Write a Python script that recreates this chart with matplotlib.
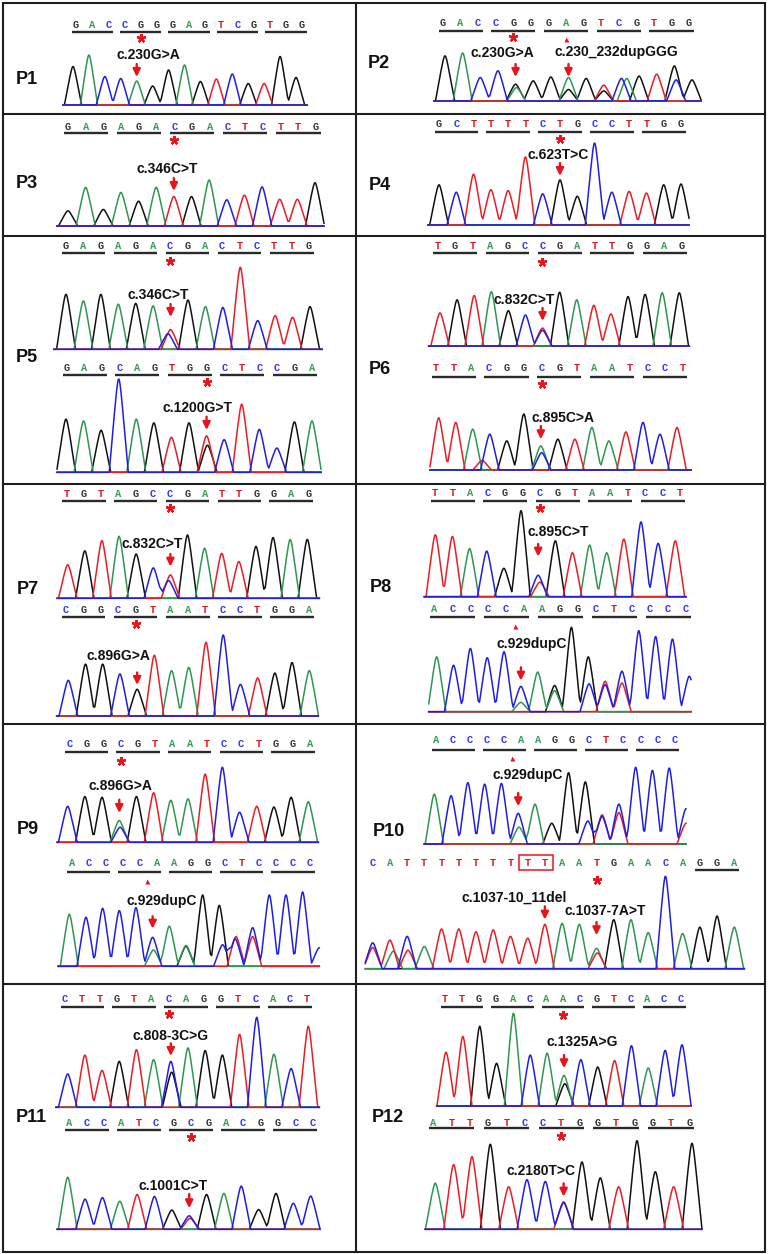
import matplotlib
matplotlib.use("Agg")
import matplotlib.pyplot as plt
from matplotlib.patches import Rectangle
import numpy as np

# ---------------- data ----------------
# sequences (letters printed above each trace)
seq_p1 = "GACCGGGAGTCGTGG"
seq_p2 = "GACCGGGAGTCGTGG"
seq_p3 = "GAGAGACGACTCTTG"
seq_p4 = "GCTTTTCTGCCTTGG"
seq_p5a = "GAGAGACGACTCTTG"
seq_p5b = "GAGCAGTGGCTCCGA"
seq_p6a = "TGTAGCCGATTGGAG"
seq_p6b = "TTACGGCGTAATCCT"
seq_p7a = "TGTAGCCGATTGGAG"
seq_p7b = "CGGCGTAATCCTGGA"
seq_p8a = "TTACGGCGTAATCCT"
seq_p8b = "ACCCCAAGGCTCCCC"
seq_p9a = "CGGCGTAATCCTGGA"
seq_p9b = "ACCCCAAGGCTCCCC"
seq_p10a = "ACCCCAAGGCTCCCC"
seq_p10b = "CATTTTTTTTTAATGAACAGGA"
seq_p11a = "CTTGTACAGGTCACT"
seq_p11b = "ACCATCGCGACGGCC"
seq_p12a = "TTGGACAACGTCACC"
seq_p12b = "ATTGTCCTGGTGGTG"

# primary peak bases (channel) and relative heights
peaks_p1 = "GACCAGGAGTCGTGG"
heights_p1 = [0.77, 1.0, 0.57, 0.53, 0.48, 0.38, 0.70, 0.80, 0.47, 0.52, 0.62, 0.43, 0.43, 0.97, 0.55]
extra_p1 = []
peaks_p2 = "GACCGGGAGTCGTGG"
heights_p2 = [0.94, 1.0, 0.49, 0.63, 0.35, 0.42, 0.50, 0.49, 0.47, 0.33, 0.47, 0.52, 0.56, 0.73, 0.44]
extra_p2 = [(4.05, "A", 0.28), (7.0, "G", 0.24), (9.0, "G", 0.21), (10.3, "A", 0.47), (13.1, "C", 0.44)]
peaks_p3 = "GAGAGATGACTCTTG"
heights_p3 = [0.33, 0.84, 0.36, 0.73, 0.54, 0.84, 0.64, 0.64, 1.0, 0.57, 0.67, 0.85, 0.58, 0.58, 0.94]
extra_p3 = []
peaks_p4 = "GCTTTTCGGCCTTGG"
heights_p4 = [0.49, 0.40, 0.62, 0.43, 0.42, 0.83, 0.38, 0.55, 0.35, 1.0, 0.40, 0.41, 0.39, 0.49, 0.50]
extra_p4 = []
peaks_p5a = "GAGAGATGACTCTTG"
heights_p5a = [0.67, 0.59, 0.67, 0.55, 0.56, 0.53, 0.24, 0.60, 0.52, 0.51, 1.0, 0.35, 0.41, 0.39, 0.52]
extra_p5a = [(5.85, "C", 0.19)]
peaks_p5b = "GAGCAGTGTCTCCGA"
heights_p5b = [0.57, 0.55, 0.45, 1.0, 0.57, 0.53, 0.375, 0.53, 0.39, 0.35, 0.73, 0.46, 0.26, 0.54, 0.55]
extra_p5b = [(8.05, "G", 0.29)]
peaks_p6a = "TGTAGCTGATTGGAG"
heights_p6a = [0.61, 0.85, 0.93, 1.0, 0.65, 0.57, 0.33, 0.99, 0.85, 0.75, 0.59, 0.91, 0.95, 0.98, 0.98]
extra_p6a = [(6.0, "C", 0.29)]
peaks_p6b = "TTACGGAGTAATCCT"
heights_p6b = [0.93, 0.85, 0.73, 0.64, 0.52, 1.0, 0.43, 0.55, 0.55, 0.76, 0.52, 0.68, 0.85, 0.64, 0.76]
extra_p6b = [(6.05, "C", 0.31), (2.55, "T", 0.17)]
peaks_p7a = "TGTAGCTGATTGGAG"
heights_p7a = [0.53, 0.75, 0.91, 0.98, 0.70, 0.48, 0.37, 1.0, 0.79, 0.71, 0.58, 0.82, 0.96, 0.93, 0.93]
extra_p7a = [(5.9, "C", 0.28)]
peaks_p7b = "CGGCGTAATCCTGGA"
heights_p7b = [0.44, 0.64, 0.64, 0.52, 0.33, 0.75, 0.56, 0.60, 0.91, 1.0, 0.39, 0.47, 0.53, 0.66, 0.56]
extra_p7b = []
peaks_p8a = "TTACGGCGTAATCCT"
heights_p8a = [0.72, 0.70, 0.56, 0.53, 0.33, 1.0, 0.25, 0.65, 0.51, 0.60, 0.51, 0.67, 0.87, 0.62, 0.65]
extra_p8a = [(6.1, "T", 0.17)]
peaks_p8b = "ACCCCCAGGGTCCCCC"
heights_p8b = [0.65, 0.55, 0.75, 0.64, 0.71, 0.30, 0.47, 0.31, 1.0, 0.65, 0.36, 0.48, 0.96, 0.89, 0.86, 0.42]
extra_p8b = [(5.0, "A", 0.11), (7.0, "A", 0.25), (9.05, "C", 0.33), (10.0, "C", 0.32), (11.0, "T", 0.34)]
peaks_p9a = "CGGAGTAATCCTGGA"
heights_p9a = [0.48, 0.61, 0.60, 0.29, 0.61, 0.66, 0.56, 0.58, 0.91, 1.0, 0.40, 0.48, 0.47, 0.60, 0.54]
extra_p9a = [(3.05, "C", 0.20)]
peaks_p9b = "ACCCCCAGGGTCCCCC"
heights_p9b = [0.70, 0.66, 0.78, 0.75, 0.79, 0.39, 0.54, 0.27, 0.96, 0.82, 0.40, 0.52, 0.96, 0.96, 1.0, 0.25]
extra_p9b = [(5.05, "A", 0.22), (7.0, "A", 0.28), (9.2, "C", 0.29), (9.95, "C", 0.37), (11.0, "T", 0.40)]
peaks_p10a = "ACCCCCAGGGTCCCCC"
heights_p10a = [0.65, 0.63, 0.80, 0.78, 0.79, 0.40, 0.52, 0.27, 0.93, 0.81, 0.38, 0.52, 1.0, 0.96, 0.99, 0.46]
extra_p10a = [(5.05, "A", 0.22), (9.15, "C", 0.30), (10.0, "C", 0.36), (11.0, "T", 0.41), (15.0, "T", 0.27)]
peaks_p10b = "CTCATTTTTTTAAAGAACAGGA"
heights_p10b = [0.28, 0.31, 0.35, 0.24, 0.43, 0.43, 0.40, 0.42, 0.35, 0.33, 0.48,
                0.49, 0.48, 0.22, 0.53, 0.53, 0.39, 1.0, 0.38, 0.45, 0.57, 0.45]
extra_p10b = [(0.0, "T", 0.23), (1.2, "A", 0.19), (2.05, "T", 0.20), (13.05, "T", 0.17)]
peaks_p11a = "CTTGTACAGGTCACT"
heights_p11a = [0.37, 0.58, 0.41, 0.51, 0.64, 0.53, 0.51, 0.66, 0.63, 0.58, 0.81, 1.0, 0.59, 0.43, 0.90]
extra_p11a = [(6.05, "G", 0.39)]
peaks_p11b = "ACCATCGCGACGGCC"
heights_p11b = [1.0, 0.58, 0.61, 0.54, 0.67, 0.63, 0.37, 0.26, 0.67, 0.69, 0.83, 0.38, 0.69, 0.50, 0.64]
extra_p11b = [(7.05, "T", 0.21)]
peaks_p12a = "TTGGACAACGTCACC"
heights_p12a = [0.58, 0.75, 0.86, 0.46, 1.0, 0.55, 0.57, 0.33, 0.50, 0.42, 0.49, 0.65, 0.41, 0.60, 0.66]
extra_p12a = [(7.05, "G", 0.24)]
peaks_p12b = "ATTGTCCCGGTGGTG"
heights_p12b = [0.52, 0.73, 0.82, 0.96, 0.48, 0.56, 0.54, 0.30, 0.76, 0.58, 0.48, 1.0, 0.65, 0.48, 0.97]
extra_p12b = [(7.0, "T", 0.31)]

panel_labels = ["P1", "P2", "P3", "P4", "P5", "P6", "P7", "P8", "P9", "P10", "P11", "P12"]

# ---------------- layout (pixels) ----------------
W, H = 768, 1254
LETTER_COL = {"A": "#3a9a55", "C": "#3434f0", "G": "#333333", "T": "#e3141c"}
TRACE_COL = {"A": "#2f9650", "C": "#1e1ee6", "G": "#111111", "T": "#ec1c24"}
RED = "#e8141c"

label_pos = [(27, 80), (379, 63), (27, 183), (380, 185), (27, 358), (380, 369),
             (28, 589), (381, 588), (28, 829), (389, 831), (31, 1117), (388, 1117)]

traces = [
    dict(seq=seq_p1, pk=peaks_p1, h=heights_p1, ex=extra_p1, let=(76, 302, 25), uy=32,
         star=(4, 38), labels=[("c.230G>A", 148, 55)], arrows=[(4, 64, 77)],
         tr=(63, 307, 73, 296, 55, 105)),
    dict(seq=seq_p2, pk=peaks_p2, h=heights_p2, ex=extra_p2, let=(443, 689, 23), uy=31,
         star=(4, 37), tri=(7, 39), labels=[("c.230G>A", 502, 53), ("c.230_232dupGGG", 616, 52)],
         arrows=[(4, 64, 77), (7, 64, 77)], tr=(434, 701, 445, 692, 53, 101)),
    dict(seq=seq_p3, pk=peaks_p3, h=heights_p3, ex=extra_p3, let=(68, 316, 127), uy=133,
         star=(6, 140), labels=[("c.346C>T", 167, 169)], arrows=[(6, 178, 191)],
         tr=(57, 324, 68, 315, 180, 226)),
    dict(seq=seq_p4, pk=peaks_p4, h=heights_p4, ex=extra_p4, let=(439, 681, 124), uy=132,
         star=(7, 139), labels=[("c.623T>C", 558, 155)], arrows=[(7, 163, 176)],
         tr=(428, 689, 439, 681, 143, 225)),
    dict(seq=seq_p5a, pk=peaks_p5a, h=heights_p5a, ex=extra_p5a, let=(66, 309, 245.7), uy=252.7,
         star=(6, 260.7), labels=[("c.346C>T", 158, 295)], arrows=[(6, 304, 317)],
         tr=(54, 322, 66, 310, 267.3, 349.3)),
    dict(seq=seq_p5b, pk=peaks_p5b, h=heights_p5b, ex=extra_p5b, let=(67, 312, 368.3), uy=375,
         star=(8, 381.7), labels=[("c.1200G>T", 197, 408.3)], arrows=[(8, 416.7, 430)],
         tr=(57, 321, 66, 312, 379, 472.3)),
    dict(seq=seq_p6a, pk=peaks_p6a, h=heights_p6a, ex=extra_p6a, let=(437.7, 682, 246), uy=253.3,
         star=(6, 261.7), labels=[("c.832C>T", 524.3, 300)], arrows=[(6, 308, 321)],
         tr=(428.7, 689.3, 440, 679.3, 291.7, 346)),
    dict(seq=seq_p6b, pk=peaks_p6b, h=heights_p6b, ex=extra_p6b, let=(436, 682.7, 368.3), uy=376.7,
         star=(6, 384), labels=[("c.895C>A", 562.7, 418.3)], arrows=[(6, 426, 439.3)],
         tr=(430, 691, 438.7, 677, 414, 470)),
    dict(seq=seq_p7a, pk=peaks_p7a, h=heights_p7a, ex=extra_p7a, let=(66.7, 308.3, 494), uy=500.7,
         star=(6, 508.3), labels=[("c.832C>T", 151.7, 544.3)], arrows=[(6, 554, 566.7)],
         tr=(57.3, 319.3, 67.7, 307.3, 535, 598.3)),
    dict(seq=seq_p7b, pk=peaks_p7b, h=heights_p7b, ex=extra_p7b, let=(66, 309.3, 610), uy=617.3,
         star=(4, 624), labels=[("c.896G>A", 118.3, 656)], arrows=[(4, 672.5, 685)],
         tr=(56.7, 318.3, 68.3, 309.3, 635, 716)),
    dict(seq=seq_p8a, pk=peaks_p8a, h=heights_p8a, ex=extra_p8a, let=(435.3, 680, 493.3), uy=500.7,
         star=(6, 508.3), labels=[("c.895C>T", 557.7, 531.7)], arrows=[(6, 544, 556.7)],
         tr=(424.3, 686, 435.3, 675.3, 510.7, 596.7)),
    dict(seq=seq_p8b, pk=peaks_p8b, h=heights_p8b, ex=extra_p8b, let=(434.3, 686, 609.3), uy=617.3,
         tri=(4.5, 626), labels=[("c.929dupC", 532, 644)], arrows=[(5, 667.3, 680.7)],
         tr=(428.7, 691, 436.7, 689.3, 627.3, 711.7)),
    dict(seq=seq_p9a, pk=peaks_p9a, h=heights_p9a, ex=extra_p9a, let=(69.3, 310, 744), uy=752.3,
         star=(3, 760.7), labels=[("c.896G>A", 120.7, 785.7)], arrows=[(3, 799.7, 813)],
         tr=(57.3, 318.3, 67.7, 308.3, 767.3, 842.3)),
    dict(seq=seq_p9b, pk=peaks_p9b, h=heights_p9b, ex=extra_p9b, let=(71.7, 310, 863), uy=872,
         tri=(4.45, 881.3), labels=[("c.929dupC", 161.7, 900.7)], arrows=[(5, 916.3, 928.7)],
         tr=(58.3, 319.3, 69.3, 319.3, 892, 966.3)),
    dict(seq=seq_p10a, pk=peaks_p10a, h=heights_p10a, ex=extra_p10a, let=(436, 674.3, 739.7), uy=749.7,
         tri=(4.45, 758), labels=[("c.929dupC", 527.7, 775.3)], arrows=[(5, 793, 806.3)],
         tr=(424.3, 686, 434.3, 686, 767.3, 844)),
    dict(seq=seq_p10b, pk=peaks_p10b, h=heights_p10b, ex=extra_p10b, let=(372.7, 734.3, 863), uy=870,
         groups=[(19, 21)], box=(9, 10, 855.3, 869.7), star=(13, 879.7),
         labels=[("c.1037-10_11del", 514.3, 898), ("c.1037-7A>T", 605.3, 911.3)],
         arrows=[(10, 906.3, 919.7), (13, 922, 935.3)],
         tr=(365.3, 744.3, 372.7, 734.3, 876.3, 968.7)),
    dict(seq=seq_p11a, pk=peaks_p11a, h=heights_p11a, ex=extra_p11a, let=(65, 307.3, 999.3), uy=1006.7,
         star=(6, 1014), labels=[("c.808-3C>G", 170.7, 1036)], arrows=[(6, 1043.3, 1056)],
         tr=(56, 319.3, 67.7, 308.3, 1017.3, 1107.3)),
    dict(seq=seq_p11b, pk=peaks_p11b, h=heights_p11b, ex=extra_p11b, let=(69.3, 312.7, 1123.3), uy=1130,
         star=(7, 1137.3), labels=[("c.1001C>T", 173.3, 1186)], arrows=[(7, 1194, 1208.3)],
         tr=(57.3, 320, 67.7, 310.7, 1177.3, 1229.3)),
    dict(seq=seq_p12a, pk=peaks_p12a, h=heights_p12a, ex=extra_p12a, let=(445.3, 681, 999.3), uy=1006.7,
         star=(7, 1015), labels=[("c.1325A>G", 582.7, 1041.7)], arrows=[(7, 1055, 1068.3)],
         tr=(436.7, 691, 446, 682, 1013.3, 1106)),
    dict(seq=seq_p12b, pk=peaks_p12b, h=heights_p12b, ex=extra_p12b, let=(433.3, 689.3, 1122.7), uy=1128.3,
         star=(7, 1136), labels=[("c.2180T>C", 541, 1170.7)], arrows=[(7, 1183.3, 1196.7)],
         tr=(425.3, 702, 435.3, 692, 1140.7, 1229.3)),
]

fig = plt.figure(figsize=(W / 100, H / 100), dpi=100, facecolor="white")
ov = fig.add_axes([0, 0, 1, 1])
ov.set_xlim(0, W)
ov.set_ylim(H, 0)
ov.axis("off")
ov.set_zorder(5)
ov.patch.set_alpha(0)

# grid borders
LC = "#1e1e1e"
ov.add_patch(Rectangle((3, 2.5), 762, 1249, fill=False, lw=1.5, edgecolor=LC))
ov.plot([355.5, 355.5], [2.5, 1251.5], color=LC, lw=1.5)
for yy in [113.5, 236, 484, 723.5, 984]:
    ov.plot([3, 765], [yy, yy], color=LC, lw=1.5)

for lab, (x, y) in zip(panel_labels, label_pos):
    ov.text(x, y, lab, fontsize=13, fontweight="bold", family="Liberation Sans",
            ha="center", va="center", color="#111111")

HALF_W = 0.54  # half base width of a peak, in base units
ROUND = 0.18   # rounding of the peak tip


def peak_shape(x, c, h):
    d = np.minimum(np.abs(x - c) / HALF_W, 1.0)
    top = np.sqrt(1 + ROUND ** 2)
    f = (top - np.sqrt(d ** 2 + ROUND ** 2)) / (top - ROUND)
    return h * np.clip(f, 0, None)


for tr in traces:
    seq = tr["seq"]
    n = len(seq)
    lx0, lx1, ly = tr["let"]
    ldx = (lx1 - lx0) / (n - 1)
    lx = lambda i: lx0 + i * ldx
    for i, ch in enumerate(seq):
        ov.text(lx(i), ly, ch, fontsize=7.5, family="Liberation Mono", fontweight="bold",
                color=LETTER_COL[ch], ha="center", va="center")
    groups = tr.get("groups", [(k, k + 2) for k in range(0, n - 2, 3)])
    for i0, i1 in groups:
        ov.plot([lx(i0) - 4.5, lx(i1) + 4.5], [tr["uy"], tr["uy"]], color="#2a2a2a",
                lw=1.7, solid_capstyle="butt")
    if "star" in tr:
        si, sy = tr["star"]
        ov.plot(lx(si), sy, marker=(5, 2, 0), ms=6.5, mew=1.6, color=RED)
    if "tri" in tr:
        ti, ty = tr["tri"]
        ov.plot(lx(ti), ty, marker="^", ms=3.6, color=RED, mec="none")
    if "box" in tr:
        b0, b1, by0, by1 = tr["box"]
        ov.add_patch(Rectangle((lx(b0) - 9, by0), lx(b1) - lx(b0) + 17, by1 - by0,
                               fill=False, edgecolor=RED, lw=1.1))
    for txt, x, y in tr["labels"]:
        ov.text(x, y, txt, fontsize=10, fontweight="bold", family="Liberation Sans",
                ha="center", va="center", color="#111111")

    # chromatogram
    pk, hts, ex = tr["pk"], tr["h"], tr["ex"]
    m = len(pk)
    bx0, bx1, p0, p1, yt, yb = tr["tr"]
    s = (p1 - p0) / (m - 1)
    ax = fig.add_axes([bx0 / W, 1 - yb / H, (bx1 - bx0) / W, (yb - yt) / H])
    ax.set_xlim((bx0 - p0) / s, (bx1 - p0) / s)
    ax.set_ylim(0, 1)
    ax.axis("off")
    ax.patch.set_alpha(0)
    xs = np.linspace((bx0 - p0) / s, (bx1 - p0) / s, 3000)
    for base in ["G", "A", "T", "C"]:
        cs = [i for i, b in enumerate(pk) if b == base]
        hs = [hts[i] for i in cs]
        for (c, b, hh) in ex:
            if b == base:
                cs.append(c)
                hs.append(hh)
        ysig = np.zeros_like(xs)
        for c, hh in zip(cs, hs):
            ysig += peak_shape(xs, c, hh)
        ax.plot(xs, ysig, color=TRACE_COL[base], lw=1.1, clip_on=False)

    for ai, ya, yb2 in tr["arrows"]:
        xa = p0 + ai * s
        ov.annotate("", xy=(xa, yb2), xytext=(xa, ya),
                    arrowprops=dict(arrowstyle="-|>,head_length=0.45,head_width=0.22",
                                    color=RED, lw=1.7, shrinkA=0, shrinkB=0))

fig.savefig("out.png", dpi=100, facecolor="white")
